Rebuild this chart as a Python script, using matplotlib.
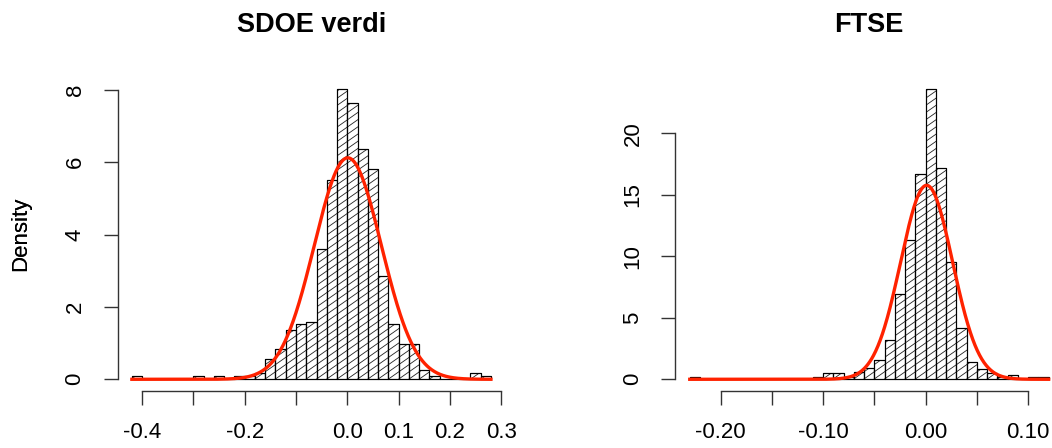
import numpy as np
import matplotlib
matplotlib.use("Agg")
import matplotlib.pyplot as plt
from matplotlib.collections import LineCollection
from matplotlib.path import Path

plt.rcParams['font.family'] = ['Liberation Sans', 'DejaVu Sans']

# ---------------- data ----------------
left_title = "SDOE verdi"
left_bin_start = -0.42
left_bin_width = 0.02
left_density = [0.09, 0, 0, 0, 0, 0, 0.09, 0, 0.09, 0, 0.09, 0.09, 0.18,
                0.56, 0.83, 1.36, 1.52, 1.59, 3.59, 5.50, 8.02, 7.64, 6.36,
                5.80, 2.85, 1.52, 0.97, 0.97, 0.27, 0.09, 0, 0, 0, 0.18, 0.09]
left_mean = 0.001
left_sd = 0.0652
left_xticks = [-0.4, -0.3, -0.2, -0.1, 0.0, 0.1, 0.2, 0.3]
left_xticklabels = ["-0.4", "", "-0.2", "", "0.0", "0.1", "0.2", "0.3"]
left_yticks = [0, 2, 4, 6, 8]

right_title = "FTSE"
right_bin_start = -0.23
right_bin_width = 0.01
right_density = [0.18, 0, 0, 0, 0, 0, 0, 0, 0, 0, 0, 0,
                 0.18, 0.54, 0.54, 0.18, 0.63, 0.95, 1.60, 3.19, 6.97, 11.3,
                 16.7, 23.6, 17.2, 9.54, 4.16, 1.43, 0.85, 0.50, 0.18, 0.36,
                 0, 0.18, 0.18]
right_mean = 0.001
right_sd = 0.0253
right_xticks = [-0.20, -0.15, -0.10, -0.05, 0.00, 0.05, 0.10]
right_xticklabels = ["-0.20", "", "-0.10", "", "0.00", "", "0.10"]
right_yticks = [0, 5, 10, 15, 20]

W, H = 1052, 448
fig = plt.figure(figsize=(W / 100, H / 100), dpi=100)

HATCH_ANGLE = 35.0      # degrees, on screen
HATCH_STEP_PX = 7.2     # vertical spacing between hatch lines in pixels
AX_COL = '#333333'


def panel(px_rect, title, start, width, dens, mu, sd, xt, xtl, yt):
    x0p, x1p, y0p, y1p = px_rect
    ax = fig.add_axes([x0p / W, 1 - y1p / H, (x1p - x0p) / W, (y1p - y0p) / H])
    dens = np.asarray(dens, dtype=float)
    edges = start + width * np.arange(len(dens) + 1)

    rx = edges[-1] - edges[0]
    xlim = (edges[0] - 0.04 * rx, edges[-1] + 0.04 * rx)
    ymax = dens.max()
    ylim = (-0.04 * ymax, 1.04 * ymax)
    ax.set_xlim(*xlim)
    ax.set_ylim(*ylim)

    # bars (white fill)
    ax.bar(edges[:-1], dens, width=width, align='edge',
           facecolor='white', edgecolor='black', linewidth=0.8, zorder=2)

    # custom hatching (angled lines clipped to bars)
    sx = (x1p - x0p) / (xlim[1] - xlim[0])     # px per x unit
    sy = (y1p - y0p) / (ylim[1] - ylim[0])     # px per y unit
    slope = np.tan(np.radians(HATCH_ANGLE)) * sx / sy
    step = HATCH_STEP_PX / sy
    xa, xb = edges[0], edges[-1]
    cmin = 0 - slope * xb - step
    cmax = ymax - slope * xa + step
    cs = np.arange(cmin, cmax, step)
    segs = [[(xa, slope * xa + c), (xb, slope * xb + c)] for c in cs]
    verts, codes = [], []
    for l, h in zip(edges[:-1], dens):
        if h <= 0:
            continue
        verts += [(l, 0), (l + width, 0), (l + width, h), (l, h), (l, 0)]
        codes += [Path.MOVETO, Path.LINETO, Path.LINETO, Path.LINETO,
                  Path.CLOSEPOLY]
    clip = Path(verts, codes)
    lc = LineCollection(segs, colors='#222222', linewidths=0.6, zorder=3)
    ax.add_collection(lc)
    lc.set_clip_path(clip, ax.transData)
    # bar outlines on top
    ax.bar(edges[:-1], dens, width=width, align='edge', fill=False,
           edgecolor='black', linewidth=0.8, zorder=4)

    xs = np.linspace(edges[0], edges[-1], 800)
    ys = np.exp(-0.5 * ((xs - mu) / sd) ** 2) / (sd * np.sqrt(2 * np.pi))
    ax.plot(xs, ys, color='#ff2200', linewidth=2.4, zorder=5)

    for s in ('top', 'right'):
        ax.spines[s].set_visible(False)
    ax.spines['left'].set_bounds(yt[0], yt[-1])
    ax.spines['bottom'].set_bounds(xt[0], xt[-1])
    for s in ('left', 'bottom'):
        ax.spines[s].set_color(AX_COL)
        ax.spines[s].set_linewidth(1.0)
    ax.set_xticks(xt)
    ax.set_xticklabels(xtl)
    ax.set_yticks(yt)
    ax.set_yticklabels([str(v) for v in yt], rotation=90, va='center')
    ax.tick_params(axis='both', direction='out', length=10, width=1.0,
                   color=AX_COL, labelsize=16)
    ax.tick_params(axis='x', pad=12.5)
    ax.tick_params(axis='y', pad=13)
    ax.set_ylabel("Density", fontsize=16)
    ax.yaxis.set_label_coords((31 - x0p) / (x1p - x0p), 0.5)
    ax.set_title(title, fontsize=19.5, fontweight='bold', pad=32.5)
    return ax


panel((117.5, 505.3, 77.4, 390.9), left_title, left_bin_start,
      left_bin_width, left_density, left_mean, left_sd,
      left_xticks, left_xticklabels, left_yticks)
panel((675.4, 1063.0, 77.4, 390.9), right_title, right_bin_start,
      right_bin_width, right_density, right_mean, right_sd,
      right_xticks, right_xticklabels, right_yticks)

fig.savefig("out.png", dpi=100)
